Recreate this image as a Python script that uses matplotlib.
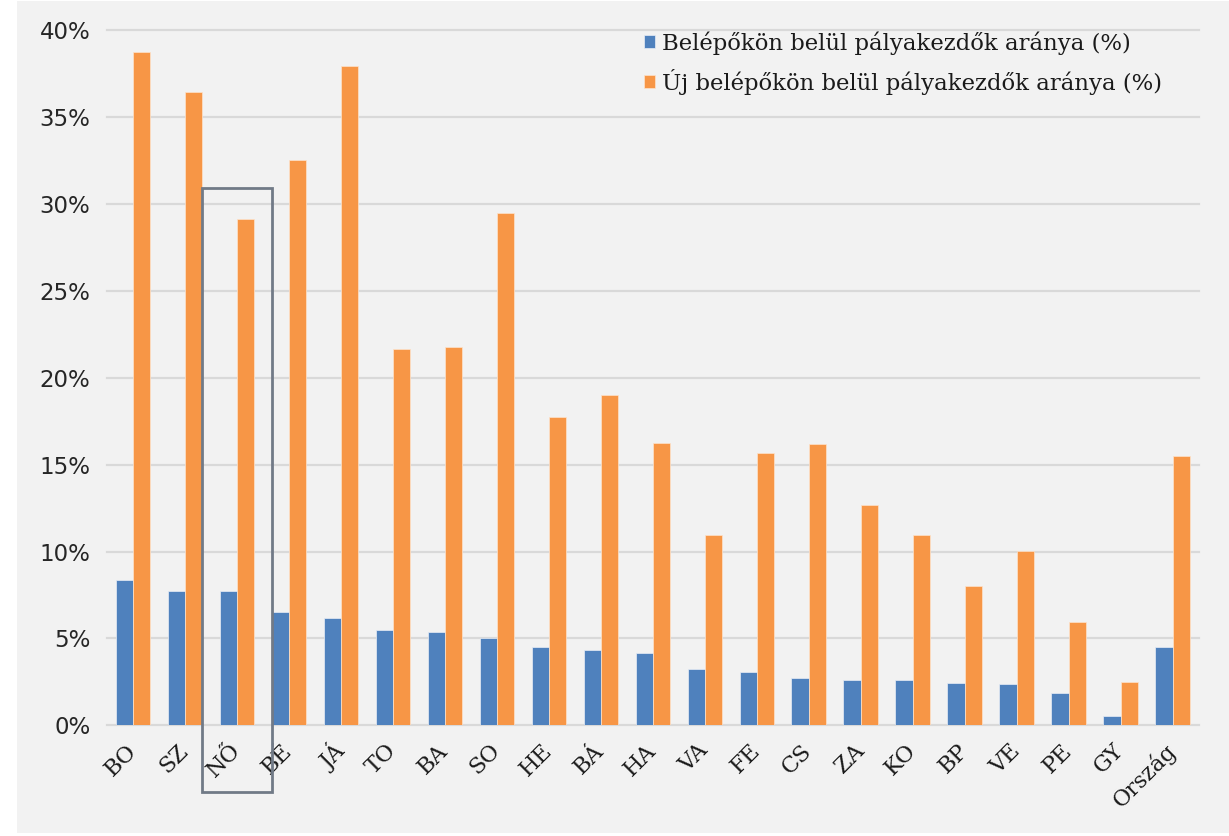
#!/usr/bin/env python3
import matplotlib.pyplot as plt
import numpy as np
from matplotlib.patches import Rectangle

# megyék rövidítése + országos átlag
categories = ["BO", "SZ", "NŐ", "BÉ", "JÁ", "TO", "BA", "SO", "HE", "BÁ", "HA",
              "VA", "FE", "CS", "ZA", "KO", "BP", "VE", "PE", "GY", "Ország"]

# Belépőkön belül pályakezdők aránya (%)
belepok = [8.35, 7.75, 7.75, 6.5, 6.2, 5.5, 5.4, 5.05, 4.5, 4.35, 4.15,
           3.25, 3.05, 2.75, 2.6, 2.6, 2.45, 2.35, 1.85, 0.55, 4.5]
# Új belépőkön belül pályakezdők aránya (%)
uj_belepok = [38.75, 36.45, 29.15, 32.55, 37.95, 21.65, 21.8, 29.5, 17.75, 19.0, 16.25,
              10.95, 15.65, 16.2, 12.7, 10.95, 8.0, 10.05, 5.95, 2.5, 15.5]

y_ticks = [0, 5, 10, 15, 20, 25, 30, 35, 40]
highlight = "NŐ"

BLUE = "#4f81bd"
ORANGE = "#f79646"
BG = "#f2f2f2"


def draw_chart():
    fig = plt.figure(figsize=(12.29, 8.36), dpi=100, facecolor="white")
    # szürke háttér (bal oldalt egy keskeny fehér sáv marad)
    fig.patches.append(Rectangle((17 / 1229, 3 / 836), 1 - 17 / 1229, 1 - 4 / 836,
                                 transform=fig.transFigure, facecolor=BG,
                                 edgecolor="none", zorder=-10))
    ax = fig.add_axes([107 / 1229, 1 - 725.3 / 836,
                       (1198.7 - 107) / 1229, (725.3 - 30.5) / 836])
    ax.set_facecolor(BG)

    x = np.arange(len(categories))
    w = 0.333
    ax.bar(x - w / 2, belepok, w, color=BLUE, edgecolor="#e8eef6", linewidth=0.5,
           label="Belépőkön belül pályakezdők aránya (%)", zorder=3)
    ax.bar(x + w / 2, uj_belepok, w, color=ORANGE, edgecolor="#fde3cc", linewidth=0.5,
           label="Új belépőkön belül pályakezdők aránya (%)", zorder=3)

    ax.set_xlim(-0.5, len(categories) - 0.5)
    ax.set_ylim(0, 40)
    ax.set_yticks(y_ticks)
    ax.set_yticklabels([f"{t}%" for t in y_ticks], fontsize=16.5,
                       family="DejaVu Sans", color="#262626")
    ax.yaxis.grid(True, color="#d9d9d9", linewidth=1.6, zorder=0)
    for gl in ax.get_ygridlines():
        gl.set_clip_on(False)
    ax.set_axisbelow(True)
    for s in ax.spines.values():
        s.set_visible(False)
    ax.tick_params(axis="both", length=0)
    ax.tick_params(axis="y", pad=12)

    ax.set_xticks(x)
    ax.set_xticklabels(categories, rotation=45, ha="right", va="center",
                       rotation_mode="anchor", fontsize=16, family="DejaVu Serif",
                       color="#1a1a1a")
    ax.tick_params(axis="x", pad=16)

    # kiemelt megye kerete
    i = categories.index(highlight)
    ax.add_patch(Rectangle((i - 0.67, -3.85), 1.34, 34.8, fill=False,
                           edgecolor="#717a87", linewidth=2, clip_on=False, zorder=5))

    leg = ax.legend(loc="upper left", bbox_to_anchor=(0.473, 1.028), frameon=False,
                    prop={"family": "DejaVu Serif", "size": 16.4},
                    handlelength=0.5, handleheight=0.5, handletextpad=0.3,
                    labelspacing=0.6)
    for t in leg.get_texts():
        t.set_color("#1a1a1a")

    fig.savefig("out.png", dpi=100, facecolor=fig.get_facecolor())


def main() -> None:
    draw_chart()


if __name__ == "__main__":
    main()
